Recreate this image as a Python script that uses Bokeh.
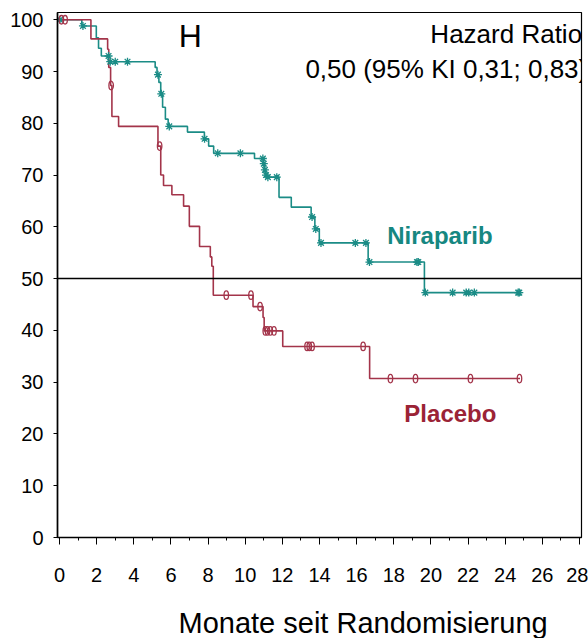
from bokeh.plotting import figure
from bokeh.models import Range1d, FixedTicker, Span, Title
from bokeh.embed import file_html
from bokeh.resources import INLINE
from bokeh.core.properties import value

# ---- data ----
nira_t = [0, 1.2, 1.98, 2.1, 2.25, 2.63, 5.15, 5.25, 5.35, 5.45, 5.55, 5.7, 5.85,
          6.89, 7.8, 8.03, 8.3, 10.5, 10.98, 11.04, 11.1, 11.17, 11.82, 12.48,
          13.55, 13.75, 13.99, 16.62, 19.65, 24.8]
nira_s = [100, 98.8, 96.5, 94.5, 93.0, 91.9, 90.8, 89.4, 87.9, 85.7, 83.1, 80.8, 79.4,
          78.3, 77.0, 75.6, 74.2, 73.2, 72.2, 71.0, 70.0, 69.6, 65.7, 63.8,
          61.9, 59.6, 56.9, 53.2, 47.3, 47.3]
nira_cens_t = [0.02, 1.26, 2.64, 2.73, 3.0, 3.66, 5.3, 5.48, 5.91, 7.81, 8.52, 9.74,
               10.95, 11.0, 11.06, 11.12, 11.22, 11.7, 13.6, 13.8, 14.08, 15.93, 16.5,
               16.69, 19.25, 19.32, 19.7, 21.17, 21.9, 22.04, 22.34, 24.7, 24.76]
nira_cens_s = [100, 98.8, 93.0, 91.9, 91.9, 91.9, 89.4, 85.7, 79.4, 77.0, 74.2, 74.2,
               73.2, 72.2, 71.0, 70.0, 69.6, 69.6, 61.9, 59.6, 56.9, 56.9, 56.9,
               53.2, 53.2, 53.2, 47.3, 47.3, 47.3, 47.3, 47.3, 47.3, 47.3]

plac_t = [0, 1.69, 2.59, 2.65, 2.75, 2.82, 3.18, 5.3, 5.45, 5.6, 6.05, 6.68, 6.99,
          7.54, 8.12, 8.2, 8.28, 10.42, 10.96, 11.02, 12.02, 16.7, 24.8]
plac_s = [100, 96.3, 94.3, 90.8, 87.3, 81.3, 79.4, 75.6, 70.0, 68.0, 66.2, 64.0, 60.1,
          56.2, 54.2, 52.4, 46.8, 44.6, 42.5, 39.9, 36.9, 30.7, 30.7]
plac_cens_t = [0.1, 0.3, 2.78, 5.39, 8.98, 10.31, 10.8, 11.08, 11.2, 11.35, 11.55,
               13.33, 13.45, 13.6, 16.35, 17.82, 19.17, 22.13, 24.77]
plac_cens_s = [100, 100, 87.3, 75.6, 46.8, 46.8, 44.6, 39.9, 39.9, 39.9, 39.9,
               36.9, 36.9, 36.9, 36.9, 30.7, 30.7, 30.7, 30.7]

x_ticks = list(range(0, 29, 2))
x_minor = list(range(1, 28, 2))
y_ticks = list(range(0, 101, 10))

TEAL = "#1b8c86"
TEAL_TXT = "#168781"
RED = "#a3344a"
RED_TXT = "#9b2336"
FONT = "Liberation Sans"

p = figure(width=588, height=638, x_range=Range1d(-0.11, 28.11), y_range=Range1d(0, 101.4),
           min_border_left=57, min_border_right=7, min_border_top=12, min_border_bottom=100,
           output_backend="svg", toolbar_location=None)
p.xgrid.visible = False
p.ygrid.visible = False
p.outline_line_color = "black"
p.outline_line_width = 1.2
p.background_fill_color = "white"

for ax in (p.xaxis, p.yaxis):
    ax.axis_line_color = "black"
    ax.axis_line_width = 1.6
    ax.major_tick_line_color = "black"
    ax.major_tick_in = 0
    ax.major_label_text_font = FONT
    ax.major_label_text_font_size = "20px"
    ax.major_label_text_color = "black"

p.xaxis.ticker = FixedTicker(ticks=x_ticks, minor_ticks=x_minor)
p.xaxis.major_tick_out = 7
p.xaxis.minor_tick_out = 3
p.xaxis.minor_tick_in = 0
p.xaxis.minor_tick_line_color = "black"
p.xaxis.major_label_standoff = 23

p.yaxis.ticker = FixedTicker(ticks=y_ticks)
p.yaxis.major_tick_out = 4
p.yaxis.minor_tick_line_color = None
p.yaxis.major_label_standoff = 10

# spacer between the tick labels and the x-axis title
p.add_layout(Title(text=" ", text_font_size="1px", standoff=17), "below")
# x-axis title, offset to the right as in the reference
p.add_layout(Title(text="Monate seit Randomisierung", align="left", offset=121,
                   text_font=FONT, text_font_size="29px", text_font_style="normal",
                   text_color="black", standoff=0), "below")

# 50% reference line
p.add_layout(Span(location=50, dimension="width", line_color="black", line_width=1.5))

# curves
p.step(nira_t, nira_s, mode="after", line_color=TEAL, line_width=1.6)
p.step(plac_t, plac_s, mode="after", line_color=RED, line_width=1.6)

p.scatter(nira_cens_t, nira_cens_s, marker="asterisk", size=8, line_color=TEAL, line_width=1.3)
p.ellipse(plac_cens_t, plac_cens_s, width=4.5, height=8.5, width_units="screen",
          height_units="screen", fill_color=None, line_color=RED, line_width=1.3)

# texts inside the frame
p.text(x=[17.65], y=[58.4], text=["Niraparib"], text_color=TEAL_TXT,
       text_font=value(FONT), text_font_style="bold", text_font_size="24px",
       text_align="left", text_baseline="alphabetic")
p.text(x=[18.57], y=[24.0], text=["Placebo"], text_color=RED_TXT,
       text_font=value(FONT), text_font_style="bold", text_font_size="24px",
       text_align="left", text_baseline="alphabetic")
p.text(x=[7.04], y=[96.9], text=["H"], text_color="black",
       text_font=value(FONT), text_font_size="32px",
       text_align="center", text_baseline="middle")
p.text(x=[19.97], y=[97.2], text=["Hazard Ratio:"], text_color="black",
       text_font=value(FONT), text_font_size="26px",
       text_align="left", text_baseline="middle")
p.text(x=[13.24], y=[90.4], text=["0,50 (95% KI 0,31; 0,83)"], text_color="black",
       text_font=value(FONT), text_font_size="26px",
       text_align="left", text_baseline="middle")

open("out.html", "w").write(file_html(p, INLINE))
